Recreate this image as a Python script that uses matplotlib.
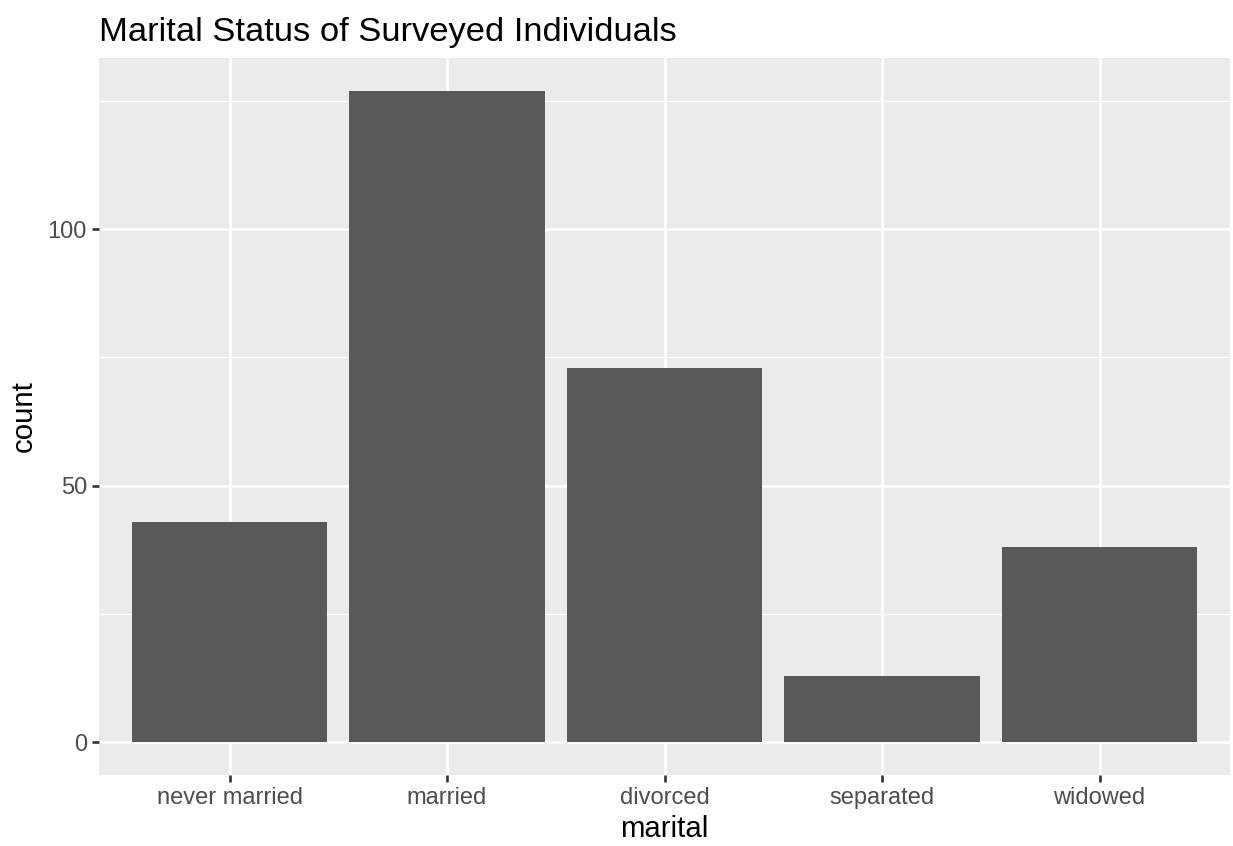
import numpy as np
import matplotlib.pyplot as plt

plt.rcParams["font.family"] = ["Liberation Sans", "DejaVu Sans"]

# Data
categories = ["never married", "married", "divorced", "separated", "widowed"]
counts = [43, 127, 73, 13, 38]
y_ticks = [0, 50, 100]


def main():
    dpi = 176
    fig = plt.figure(figsize=(1233 / dpi, 846 / dpi), dpi=dpi)
    ax = fig.add_axes([99 / 1233, 1 - 775 / 846, (1230 - 99) / 1233, (775 - 58) / 846])

    x = np.arange(1, len(categories) + 1)
    ax.set_facecolor("#EBEBEB")
    ax.bar(x, counts, width=0.9, color="#595959", zorder=3)

    ymax = max(counts)
    ax.set_xlim(0.4, len(categories) + 0.6)
    ax.set_ylim(-0.05 * ymax, 1.05 * ymax)

    ax.set_xticks(x)
    ax.set_xticklabels(categories)
    ax.set_yticks(y_ticks)
    ax.set_yticks([25, 75, 125], minor=True)

    ax.grid(which="major", color="white", linewidth=1.07, zorder=1)
    ax.grid(which="minor", axis="y", color="white", linewidth=0.53, zorder=1)
    ax.set_axisbelow(True)

    for s in ax.spines.values():
        s.set_visible(False)

    ax.tick_params(which="major", length=2.75, width=1.07, color="#333333",
                   labelsize=9.7, labelcolor="#4D4D4D", pad=2.2)
    ax.tick_params(which="minor", length=0)

    ax.set_xlabel("marital", fontsize=12, labelpad=2.5)
    ax.set_ylabel("count", fontsize=12, labelpad=4)
    ax.set_title("Marital Status of Surveyed Individuals", fontsize=14.1,
                 loc="left", pad=7)

    fig.savefig("out.png", dpi=dpi)


if __name__ == "__main__":
    main()
